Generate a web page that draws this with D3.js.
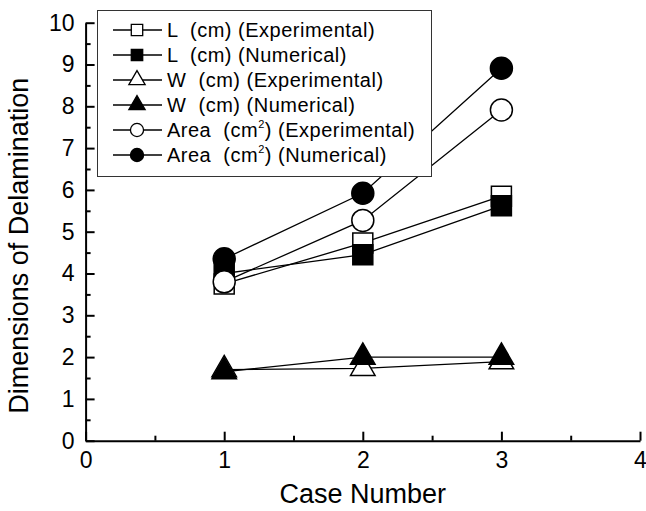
<!DOCTYPE html>
<html>
<head>
<meta charset="utf-8">
<script src="https://cdn.jsdelivr.net/npm/d3@7"></script>
<style>
  body { margin: 0; background: #fff; }
  text { font-family: "Liberation Sans", Arial, Helvetica, sans-serif; fill: #000; }
</style>
</head>
<body>
<div id="chart"></div>
<script>
// data
var cases = [1, 2, 3];
var lExp = [3.75, 4.73, 5.85];
var lNum = [4.0, 4.45, 5.62];
var wExp = [1.7, 1.73, 1.89];
var wNum = [1.65, 2.0, 2.0];
var areaExp = [3.8, 5.27, 7.91];
var areaNum = [4.35, 5.92, 8.91];

var xTicks = [0, 1, 2, 3, 4];
var yTicks = [0, 1, 2, 3, 4, 5, 6, 7, 8, 9, 10];

var seriesNames = ["L  (cm) (Experimental)", "L  (cm) (Numerical)",
                   "W  (cm) (Experimental)", "W  (cm) (Numerical)",
                   "Area  (cm", "Area  (cm"];
var seriesTails = ["", "", "", "", ") (Experimental)", ") (Numerical)"];

// svg size
var svgWidth = 646;
var svgHeight = 511;

var svg = d3.select("#chart")
  .append("svg")
  .attr("width", svgWidth)
  .attr("height", svgHeight);

// scales
var xScale = d3.scaleLinear().domain([0, 4]).range([85.6, 640]);
var yScale = d3.scaleLinear().domain([0, 10]).range([440.7, 22.7]);

// minor ticks first so the major ones sit on top
var xMinor = d3.axisBottom(xScale).tickValues([0.5, 1.5, 2.5, 3.5]).tickSize(-5).tickFormat("");
var yMinor = d3.axisLeft(yScale).tickValues(d3.range(0.5, 10, 1)).tickSize(-5).tickFormat("");

svg.append("g").attr("class", "minor")
  .attr("transform", `translate(0, ${yScale(0)})`)
  .call(xMinor);
svg.append("g").attr("class", "minor")
  .attr("transform", `translate(${xScale(0)}, 0)`)
  .call(yMinor);

var xAxis = d3.axisBottom(xScale).tickValues(xTicks).tickSizeInner(-9).tickSizeOuter(0).tickPadding(11).tickFormat(d3.format("d"));
var yAxis = d3.axisLeft(yScale).tickValues(yTicks).tickSizeInner(-9).tickSizeOuter(0).tickPadding(11).tickFormat(d3.format("d"));

svg.append("g").attr("class", "axis")
  .attr("transform", `translate(0, ${yScale(0)})`)
  .call(xAxis);
svg.append("g").attr("class", "axis")
  .attr("transform", `translate(${xScale(0)}, 0)`)
  .call(yAxis);

svg.selectAll(".axis path, .axis line, .minor path, .minor line")
  .attr("stroke", "#000")
  .attr("stroke-width", 2);
svg.selectAll(".minor path").remove();
svg.selectAll(".axis text")
  .style("font-size", "23px")
  .attr("fill", "#000");

// axis titles
svg.append("text")
  .attr("x", (xScale(0) + xScale(4)) / 2)
  .attr("y", 503)
  .attr("text-anchor", "middle")
  .style("font-size", "27px")
  .text("Case Number");

svg.append("text")
  .attr("transform", `translate(28, ${(yScale(0) + yScale(10)) / 2 + 14}) rotate(-90)`)
  .attr("text-anchor", "middle")
  .style("font-size", "27px")
  .text("Dimensions of Delamination");

// series: values, marker shape, filled or not
var series = [
  { values: lExp, shape: d3.symbolSquare, fill: "#fff" },
  { values: lNum, shape: d3.symbolSquare, fill: "#000" },
  { values: wExp, shape: d3.symbolTriangle, fill: "#fff" },
  { values: wNum, shape: d3.symbolTriangle, fill: "#000" },
  { values: areaExp, shape: d3.symbolCircle, fill: "#fff" },
  { values: areaNum, shape: d3.symbolCircle, fill: "#000" }
];

function bigSize(shape) {
  if (shape === d3.symbolSquare) return 400;
  if (shape === d3.symbolTriangle) return 260;
  return 380;
}
function smallSize(shape) {
  if (shape === d3.symbolSquare) return 130;
  if (shape === d3.symbolTriangle) return 115;
  return 135;
}

var line = d3.line()
  .x((d, i) => xScale(cases[i]))
  .y(d => yScale(d));

series.forEach(function (s) {
  svg.append("path")
    .datum(s.values)
    .attr("d", line)
    .attr("fill", "none")
    .attr("stroke", "#000")
    .attr("stroke-width", 1.3);

  svg.selectAll(null)
    .data(s.values)
    .enter()
    .append("path")
    .attr("transform", (d, i) => `translate(${xScale(cases[i])}, ${yScale(d)})`)
    .attr("d", d3.symbol().type(s.shape).size(bigSize(s.shape)))
    .attr("fill", s.fill)
    .attr("stroke", "#000")
    .attr("stroke-width", 1.5);
});

// legend
var legend = svg.append("g");
legend.append("rect")
  .attr("x", 97.5)
  .attr("y", 10.5)
  .attr("width", 334)
  .attr("height", 166)
  .attr("fill", "#fff")
  .attr("stroke", "#333")
  .attr("stroke-width", 1);

series.forEach(function (s, i) {
  var y = 30 + i * 25;
  legend.append("line")
    .attr("x1", 113).attr("x2", 162)
    .attr("y1", y).attr("y2", y)
    .attr("stroke", "#000")
    .attr("stroke-width", 1.3);
  legend.append("path")
    .attr("transform", `translate(137, ${y})`)
    .attr("d", d3.symbol().type(s.shape).size(smallSize(s.shape)))
    .attr("fill", s.fill)
    .attr("stroke", "#000")
    .attr("stroke-width", 1.3);

  var t = legend.append("text")
    .attr("x", 167)
    .attr("y", y + 7)
    .style("font-size", "20px")
    .style("letter-spacing", "0.5px")
    .style("white-space", "pre");
  t.append("tspan").text(seriesNames[i]);
  if (seriesTails[i]) {
    t.append("tspan").attr("dy", -9).style("font-size", "11px").text("2");
    t.append("tspan").attr("dy", 9).text(seriesTails[i]);
  }
});
</script>
</body>
</html>
